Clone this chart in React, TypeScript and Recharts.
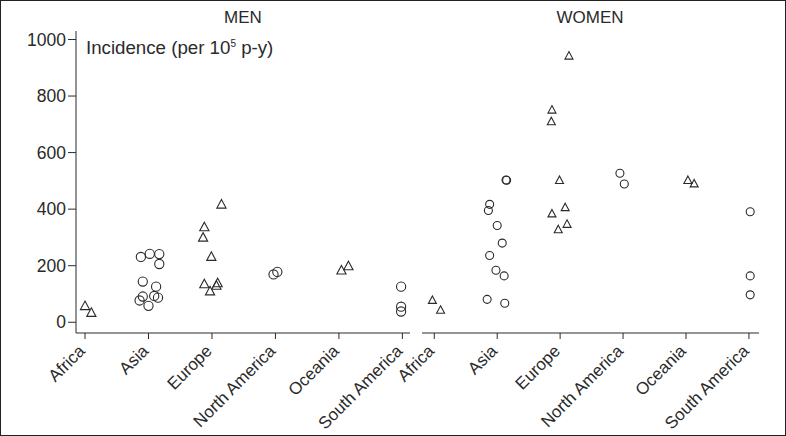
import React from "react";
import { ScatterChart, Scatter, XAxis, YAxis } from "recharts";

const continents = ["Africa", "Asia", "Europe", "North America", "Oceania", "South America"];
const yTicks = [0, 200, 400, 600, 800, 1000];

// [continent index, horizontal jitter, incidence]
const menTriangles: [number, number, number][] = [
  [0, 0, 59], [0, 0.1, 35],
  [2, 0.15, 418], [2, -0.12, 338], [2, -0.14, 301], [2, -0.01, 233],
  [2, -0.12, 136], [2, 0.09, 140], [2, -0.03, 111], [2, 0.07, 131],
  [4, 0.04, 185], [4, 0.15, 200],
];
const menCircles: [number, number, number][] = [
  [1, -0.12, 231], [1, 0.02, 242], [1, 0.17, 241], [1, 0.17, 206],
  [1, -0.09, 144], [1, 0.12, 126], [1, -0.09, 91], [1, -0.14, 77],
  [1, 0, 58], [1, 0.09, 93], [1, 0.15, 87],
  [3, -0.03, 169], [3, 0.03, 178],
  [5, -0.02, 126], [5, -0.02, 55], [5, -0.02, 38],
];
const womenTriangles: [number, number, number][] = [
  [0, -0.03, 79], [0, 0.1, 44],
  [2, 0.14, 943], [2, -0.13, 752], [2, -0.14, 711], [2, -0.01, 503],
  [2, 0.08, 407], [2, -0.13, 385], [2, 0.11, 348], [2, -0.03, 329],
  [4, 0.03, 503], [4, 0.13, 491],
];
const womenCircles: [number, number, number][] = [
  [1, 0.14, 503], [1, 0.15, 502], [1, -0.12, 417], [1, -0.14, 395],
  [1, 0, 342], [1, 0.08, 280], [1, -0.12, 236], [1, -0.02, 184],
  [1, 0.11, 164], [1, -0.16, 81], [1, 0.12, 67],
  [3, -0.05, 527], [3, 0.02, 489],
  [5, 0.02, 391], [5, 0.02, 164], [5, 0.02, 97],
];

const toPoints = (rows: [number, number, number][]) =>
  rows.map(([c, j, v]) => ({ x: c + j, y: v }));

const FONT = "'Liberation Sans', Arial, sans-serif";
const INK = "#2a2a2a";
const Y_DOMAIN: [number, number] = [-38, 1030];

const triangle = (r: number) => (props: any) => {
  const { cx, cy } = props;
  const h = r * 1.75;
  return (
    <path
      d={`M${cx},${cy - h / 2 - 0.5} L${cx + r},${cy + h / 2} L${cx - r},${cy + h / 2} Z`}
      fill="none"
      stroke={INK}
      strokeWidth={1.1}
    />
  );
};

const circle = (r: number) => (props: any) => (
  <circle cx={props.cx} cy={props.cy} r={r} fill="none" stroke={INK} strokeWidth={1.1} />
);

const XTick = (props: any) => {
  const { x, y, payload } = props;
  return (
    <g transform={`translate(${x + 1},${y + 11})`}>
      <text transform="rotate(-45)" textAnchor="end" fontSize={17} fontFamily={FONT} fill={INK}>
        {continents[payload.value]}
      </text>
    </g>
  );
};

type PanelProps = {
  triangles: [number, number, number][];
  circles: [number, number, number][];
  width: number;
  margin: { top: number; right: number; left: number; bottom: number };
  xDomain: [number, number];
  showY: boolean;
  r: number;
};

function Panel({ triangles, circles, width, margin, xDomain, showY, r }: PanelProps) {
  return (
    <ScatterChart width={width} height={436} margin={margin}>
      <XAxis
        type="number"
        dataKey="x"
        domain={xDomain}
        ticks={[0, 1, 2, 3, 4, 5]}
        interval={0}
        allowDataOverflow
        height={103}
        tickSize={6}
        stroke={INK}
        tick={<XTick />}
      />
      <YAxis
        type="number"
        dataKey="y"
        domain={Y_DOMAIN}
        ticks={yTicks}
        interval={0}
        allowDataOverflow
        hide={!showY}
        width={76}
        tickSize={8}
        stroke={INK}
        tick={{ fontSize: 17.5, fontFamily: FONT, fill: INK }}
      />
      <Scatter data={toPoints(triangles)} shape={triangle(r)} isAnimationActive={false} />
      <Scatter data={toPoints(circles)} shape={circle(r)} isAnimationActive={false} />
    </ScatterChart>
  );
}

export default function App() {
  return (
    <div style={{ position: "absolute", left: 0, top: 0, width: 786, height: 436, background: "#fff", fontFamily: FONT, color: INK }}>
      <div style={{ position: "absolute", left: 0, top: 0 }}>
        <Panel
          triangles={menTriangles}
          circles={menCircles}
          width={420}
          margin={{ top: 31, right: 10, left: 0, bottom: 0 }}
          xDomain={[-0.142, 5.12]}
          showY
          r={4.6}
        />
      </div>
      <div style={{ position: "absolute", left: 380, top: 0 }}>
        <Panel
          triangles={womenTriangles}
          circles={womenCircles}
          width={392}
          margin={{ top: 31, right: 13, left: 42, bottom: 0 }}
          xDomain={[-0.195, 5.16]}
          showY={false}
          r={4}
        />
      </div>
      <div style={{ position: "absolute", left: 243, top: 8, transform: "translateX(-50%)", fontSize: 17 }}>MEN</div>
      <div style={{ position: "absolute", left: 590, top: 8, transform: "translateX(-50%)", fontSize: 17 }}>WOMEN</div>
      <div style={{ position: "absolute", left: 86, top: 37, fontSize: 18.7, whiteSpace: "nowrap" }}>
        Incidence (per 10<sup style={{ fontSize: 10 }}>5</sup> p-y)
      </div>
      <div style={{ position: "absolute", inset: 0, border: "1px solid #222", boxSizing: "border-box", pointerEvents: "none" }} />
    </div>
  );
}
